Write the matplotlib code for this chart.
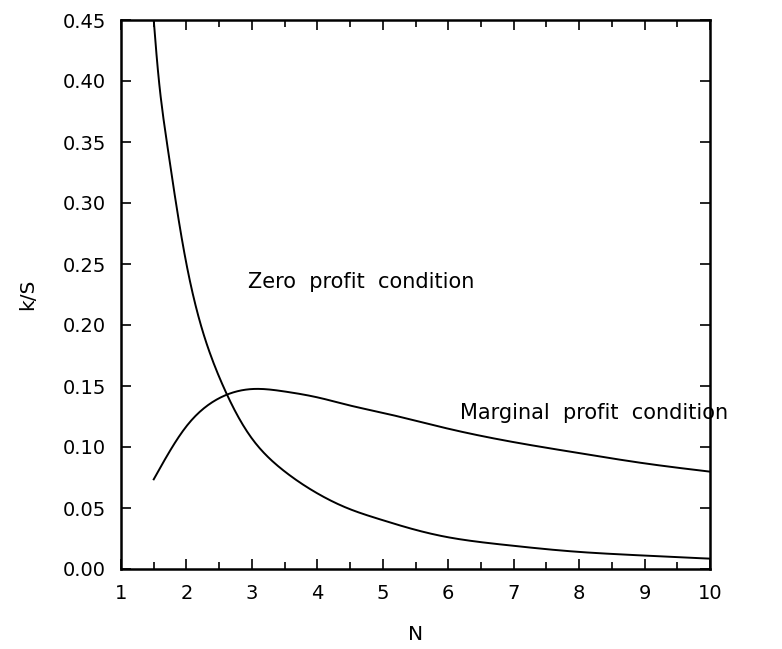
import matplotlib
matplotlib.use("Agg")
import matplotlib.pyplot as plt
import numpy as np

# 零利润条件曲线
zero_n = [1.5, 1.58, 1.70, 1.84, 2.0, 2.22, 2.56, 3.0, 3.5, 4.0, 4.5, 5.0, 6.0, 7.0, 8.0, 9.0, 10.0]
zero_ks = [0.45, 0.40, 0.35, 0.30, 0.25, 0.20, 0.15, 0.107, 0.080, 0.062, 0.049, 0.040, 0.026, 0.019, 0.014, 0.011, 0.0085]

# 边际利润条件曲线
marg_n = [1.5, 1.75, 2.0, 2.25, 2.5, 3.0, 3.5, 4.0, 4.5, 5.0, 6.0, 7.0, 8.0, 9.0, 10.0]
marg_ks = [0.0735, 0.097, 0.117, 0.131, 0.140, 0.1475, 0.1455, 0.1407, 0.134, 0.128, 0.115, 0.104, 0.095, 0.0866, 0.0798]

x_ticks = list(range(1, 11))
y_ticks = [0.00, 0.05, 0.10, 0.15, 0.20, 0.25, 0.30, 0.35, 0.40, 0.45]

plt.rcParams['font.family'] = ['DejaVu Sans']

fig = plt.figure(figsize=(7.82, 6.49), dpi=100)
ax = fig.add_axes([121 / 782, 1 - 569 / 649, (710 - 121) / 782, (569 - 20) / 649])


def spline(xs, ys, num=400):
    """自然三次样条, 让曲线光滑"""
    xs = np.asarray(xs, float)
    ys = np.asarray(ys, float)
    n = len(xs)
    h = np.diff(xs)
    A = np.zeros((n, n))
    b = np.zeros(n)
    A[0, 0] = A[-1, -1] = 1
    for i in range(1, n - 1):
        A[i, i - 1] = h[i - 1]
        A[i, i] = 2 * (h[i - 1] + h[i])
        A[i, i + 1] = h[i]
        b[i] = 6 * ((ys[i + 1] - ys[i]) / h[i] - (ys[i] - ys[i - 1]) / h[i - 1])
    M = np.linalg.solve(A, b)
    xx = np.linspace(xs[0], xs[-1], num)
    idx = np.clip(np.searchsorted(xs, xx) - 1, 0, n - 2)
    x0, x1 = xs[idx], xs[idx + 1]
    hh = h[idx]
    yy = (M[idx] * (x1 - xx) ** 3 / (6 * hh) + M[idx + 1] * (xx - x0) ** 3 / (6 * hh)
          + (ys[idx] / hh - M[idx] * hh / 6) * (x1 - xx)
          + (ys[idx + 1] / hh - M[idx + 1] * hh / 6) * (xx - x0))
    return xx, yy


# 零利润曲线在对数空间插值更平滑
zx, zy = spline(zero_n, np.log(zero_ks))
ax.plot(zx, np.exp(zy), color='black', linewidth=1.4)
ax.plot(*spline(marg_n, marg_ks), color='black', linewidth=1.4)

ax.set_xlim(1, 10)
ax.set_ylim(0, 0.45)
ax.set_xticks(x_ticks)
ax.set_xticks(np.arange(1.5, 10, 1.0), minor=True)
ax.set_yticks(y_ticks)
ax.set_yticklabels([f'{v:.2f}' for v in y_ticks])

ax.tick_params(which='both', direction='in', top=True, right=True, labelsize=14)
ax.tick_params(which='major', length=7, width=1.2, pad=11)
ax.tick_params(which='minor', length=5, width=1.2)
for sp in ax.spines.values():
    sp.set_linewidth(1.8)

ax.set_xlabel('N', fontsize=14.5, labelpad=16)
ax.set_ylabel('k/S', fontsize=14.5, labelpad=18)

ax.text(2.94, 0.235, 'Zero  profit  condition', fontsize=15, va='center', ha='left')
ax.text(6.18, 0.128, 'Marginal  profit  condition', fontsize=15, va='center', ha='left',
        clip_on=False)

fig.savefig('out.png', dpi=100)
